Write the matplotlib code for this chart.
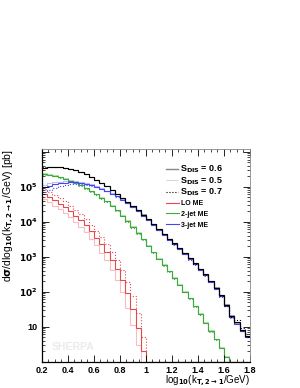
import matplotlib
matplotlib.use("Agg")
import matplotlib.pyplot as plt
from matplotlib.lines import Line2D
from matplotlib.ticker import FixedLocator, LogLocator, MultipleLocator, NullFormatter
import numpy as np

plt.rcParams["font.family"] = ["Liberation Sans", "DejaVu Sans"]
plt.rcParams["font.weight"] = "bold"
plt.rcParams["mathtext.default"] = "bf"

# bin edges of log10(kT,2->1/GeV), 40 bins
bin_edges = np.round(np.linspace(0.2, 1.8, 41), 3)

# total (black)
total_s06 = [3.5e5, 3.65e5, 3.72e5, 3.68e5, 3.5e5, 3.25e5, 2.95e5, 2.62e5, 2.28e5, 1.92e5,
             1.6e5, 1.3e5, 1.05e5, 8.2e4, 6.4e4, 4.9e4, 3.75e4, 2.85e4, 2.15e4, 1.6e4,
             1.17e4, 8.6e3, 6.3e3, 4.6e3, 3.3e3, 2.4e3, 1.75e3, 1.25e3, 900, 640,
             450, 310, 205, 130, 78, 42, 20, 14, 8, 5.5]
total_s05 = [3.45e5, 3.62e5, 3.7e5, 3.67e5, 3.5e5, 3.26e5, 2.96e5, 2.63e5, 2.29e5, 1.93e5,
             1.61e5, 1.31e5, 1.05e5, 8.2e4, 6.4e4, 4.9e4, 3.76e4, 2.86e4, 2.16e4, 1.61e4,
             1.18e4, 8.6e3, 6.3e3, 4.6e3, 3.3e3, 2.42e3, 1.76e3, 1.26e3, 910, 650,
             455, 315, 208, 133, 80, 44, 22, 13, 7.5, 5]
total_s07 = [3.56e5, 3.68e5, 3.73e5, 3.68e5, 3.5e5, 3.24e5, 2.94e5, 2.61e5, 2.27e5, 1.91e5,
             1.59e5, 1.29e5, 1.04e5, 8.1e4, 6.3e4, 4.85e4, 3.72e4, 2.83e4, 2.13e4, 1.59e4,
             1.16e4, 8.5e3, 6.2e3, 4.55e3, 3.27e3, 2.38e3, 1.73e3, 1.24e3, 890, 630,
             445, 305, 200, 127, 76, 40, 19, 16, 9, 6]

# LO ME (red)
lo_s06 = [6.1e4, 5.0e4, 4.1e4, 3.3e4, 2.6e4, 2.0e4, 1.5e4, 1.1e4, 7.8e3, 5.3e3,
          3.5e3, 2.25e3, 1.4e3, 800, 440, 220, 90, 32, 9, 2,
          0, 0, 0, 0, 0, 0, 0, 0, 0, 0, 0, 0, 0, 0, 0, 0, 0, 0, 0, 0]
lo_s05 = [4.4e4, 3.6e4, 2.9e4, 2.3e4, 1.8e4, 1.35e4, 1.0e4, 7.2e3, 5.0e3, 3.3e3,
          2.1e3, 1.3e3, 780, 420, 210, 95, 35, 11, 3, 0.6,
          0, 0, 0, 0, 0, 0, 0, 0, 0, 0, 0, 0, 0, 0, 0, 0, 0, 0, 0, 0]
lo_s07 = [8.5e4, 7.0e4, 5.8e4, 4.7e4, 3.8e4, 2.9e4, 2.2e4, 1.65e4, 1.2e4, 8.3e3,
          5.6e3, 3.7e3, 2.35e3, 1.4e3, 800, 420, 190, 75, 24, 5,
          0, 0, 0, 0, 0, 0, 0, 0, 0, 0, 0, 0, 0, 0, 0, 0, 0, 0, 0, 0]

# 2-jet ME (green)
twojet_s06 = [2.3e5, 2.2e5, 2.05e5, 1.88e5, 1.7e5, 1.5e5, 1.3e5, 1.1e5, 9.1e4, 7.4e4,
              6.0e4, 4.8e4, 3.8e4, 2.9e4, 2.1e4, 1.5e4, 1.05e4, 7.1e3, 4.8e3, 3.15e3,
              2.05e3, 1.35e3, 880, 580, 380, 245, 158, 100, 64, 39,
              23, 13, 7.5, 4.3, 2.5, 1.4, 0.8, 0.4, 0.2, 0.1]
twojet_s05 = [2.4e5, 2.29e5, 2.13e5, 1.96e5, 1.77e5, 1.56e5, 1.35e5, 1.14e5, 9.5e4, 7.7e4,
              6.25e4, 5.0e4, 3.95e4, 3.0e4, 2.18e4, 1.56e4, 1.09e4, 7.4e3, 5.0e3, 3.28e3,
              2.13e3, 1.4e3, 915, 600, 395, 255, 164, 104, 66, 40,
              24, 13.5, 7.8, 4.5, 2.6, 1.45, 0.8, 0.4, 0.2, 0.1]
twojet_s07 = [2.2e5, 2.11e5, 1.97e5, 1.8e5, 1.63e5, 1.44e5, 1.25e5, 1.06e5, 8.7e4, 7.1e4,
              5.75e4, 4.6e4, 3.65e4, 2.8e4, 2.02e4, 1.44e4, 1.01e4, 6.8e3, 4.6e3, 3.02e3,
              1.97e3, 1.3e3, 845, 555, 365, 235, 152, 96, 62, 37,
              22, 12.5, 7.2, 4.1, 2.4, 1.35, 0.8, 0.4, 0.2, 0.1]

# 3-jet ME (blue)
threejet_s06 = [9.8e4, 1.08e5, 1.18e5, 1.26e5, 1.32e5, 1.35e5, 1.34e5, 1.3e5, 1.22e5, 1.12e5,
                1.0e5, 8.8e4, 7.6e4, 6.4e4, 5.3e4, 4.3e4, 3.4e4, 2.65e4, 2.0e4, 1.5e4,
                1.1e4, 8.1e3, 5.9e3, 4.3e3, 3.1e3, 2.25e3, 1.63e3, 1.17e3, 840, 600,
                420, 290, 192, 122, 73, 40, 19, 12, 7.5, 5]
threejet_s05 = [1.14e5, 1.24e5, 1.33e5, 1.4e5, 1.44e5, 1.46e5, 1.44e5, 1.38e5, 1.29e5, 1.17e5,
                1.04e5, 9.1e4, 7.8e4, 6.55e4, 5.4e4, 4.37e4, 3.45e4, 2.68e4, 2.02e4, 1.51e4,
                1.11e4, 8.2e3, 5.95e3, 4.35e3, 3.12e3, 2.27e3, 1.64e3, 1.18e3, 850, 605,
                425, 292, 195, 124, 75, 41, 20, 12, 7.5, 5]
threejet_s07 = [7.3e4, 8.3e4, 9.3e4, 1.02e5, 1.1e5, 1.16e5, 1.19e5, 1.18e5, 1.13e5, 1.06e5,
                9.6e4, 8.5e4, 7.4e4, 6.3e4, 5.2e4, 4.25e4, 3.35e4, 2.62e4, 1.98e4, 1.49e4,
                1.09e4, 8.0e3, 5.85e3, 4.25e3, 3.08e3, 2.23e3, 1.62e3, 1.16e3, 830, 595,
                415, 288, 190, 120, 72, 39, 18, 14, 8, 5.5]

y_min, y_max = 1.0, 1.2e6

red, green, blue = "#e5484d", "#3caa3c", "#4646f0"
components = [
    (red, lo_s06, lo_s05, lo_s07),
    (green, twojet_s06, twojet_s05, twojet_s07),
    (blue, threejet_s06, threejet_s05, threejet_s07),
    ("black", total_s06, total_s05, total_s07),
]

fig = plt.figure(figsize=(3.0, 3.88), dpi=100)
ax = fig.add_axes([0.14, 0.068, 0.693, 0.548])

for color, s06, s05, s07 in components:
    for vals, ls, alpha in [(s05, "-", 0.35), (s07, ":", 1.0), (s06, "-", 1.0)]:
        # empty bins sit on the frame bottom, like ROOT draws them
        vals = np.where(np.array(vals) > 0, vals, y_min)
        ax.stairs(vals, bin_edges, baseline=None, color=color, linestyle=ls,
                  alpha=alpha, linewidth=0.8)

ax.set_yscale("log")
ax.set_xlim(0.2, 1.8)
ax.set_ylim(y_min, y_max)

# ticks on all sides, ROOT style
ax.tick_params(which="both", direction="in", top=True, right=True, labelsize=6.5, pad=3)
ax.tick_params(which="major", length=5, width=0.6)
ax.tick_params(which="minor", length=2.5, width=0.5)
ax.xaxis.set_minor_locator(MultipleLocator(0.05))
ax.set_xticks([0.2, 0.4, 0.6, 0.8, 1.0, 1.2, 1.4, 1.6, 1.8])
ax.set_xticklabels(["0.2", "0.4", "0.6", "0.8", "1", "1.2", "1.4", "1.6", "1.8"])
ax.yaxis.set_major_locator(FixedLocator([10, 1e2, 1e3, 1e4, 1e5, 1e6]))
ax.set_yticklabels(["10", r"$10^{2}$", r"$10^{3}$", r"$10^{4}$", r"$10^{5}$", ""])
ax.yaxis.set_minor_locator(LogLocator(base=10, subs=np.arange(2, 10)))
ax.yaxis.set_minor_formatter(NullFormatter())

for side in ["top", "right"]:
    ax.spines[side].set_color("#888888")
    ax.spines[side].set_linewidth(0.6)
for side in ["left", "bottom"]:
    ax.spines[side].set_linewidth(0.9)

ax.set_xlabel(r"log$_{10}$(k$_{T,2\rightarrow 1}$/GeV)", fontsize=7, loc="right", labelpad=-1)
ax.set_ylabel(r"d$\sigma$/dlog$_{10}$(k$_{T,2\rightarrow 1}$/GeV) [pb]", fontsize=7.5,
              loc="top", labelpad=2)

ax.text(0.15, 0.07, "SHERPA", transform=ax.transAxes, fontsize=7.5, color="#ebebeb",
        fontweight="bold", ha="center", va="center")

# legend: cut variations
s_handles = [
    Line2D([], [], color="#888888", lw=1.0),
    Line2D([], [], color="#bbbbbb", lw=0.6, alpha=0.7),
    Line2D([], [], color="black", lw=0.8, ls=":"),
]
s_labels = [r"S$_{\rm DIS}$ = 0.6", r"S$_{\rm DIS}$ = 0.5", r"S$_{\rm DIS}$ = 0.7"]
leg1 = ax.legend(s_handles, s_labels, loc="upper left", bbox_to_anchor=(0.595, 0.93),
                 frameon=False, fontsize=6.5, handlelength=1.35, handletextpad=0.25,
                 labelspacing=0.0, borderaxespad=0, borderpad=0)
ax.add_artist(leg1)

# legend: matrix-element components
me_handles = [Line2D([], [], color=c, lw=0.8) for c in (red, green, blue)]
me_labels = ["LO ME", "2-jet ME", "3-jet ME"]
ax.legend(me_handles, me_labels, loc="upper left", bbox_to_anchor=(0.595, 0.76),
          frameon=False, fontsize=5, handlelength=1.9, handletextpad=0.35,
          labelspacing=0.55, borderaxespad=0, borderpad=0)

fig.savefig("out.png", dpi=100)
